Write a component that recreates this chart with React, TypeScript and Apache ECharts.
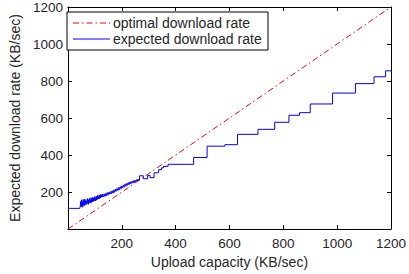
import React, { useEffect, useRef } from "react";
import * as echarts from "echarts";

const optimalX = [0, 1200];
const optimalY = [0, 1200];

const expectedX = [
  0, 44, 46, 47.5, 49, 50.5, 52, 53.5, 55, 56.5, 58, 59.5, 61, 62.5, 64, 65.5, 67,
  68.5, 70, 71.5, 73, 74.5, 76, 77.5, 79, 80.5, 82, 83.5, 85, 86.5, 88, 89.5, 91,
  92.5, 94, 95.5, 97, 98.5, 100, 101.5, 103, 104.5, 106, 107.5, 109, 110.5, 112,
  113.5, 115, 116.5, 118, 119.5, 121, 122.5, 124, 125.5, 127, 128.5, 130, 133, 136,
  139, 142, 145, 148, 151, 154, 157, 160, 163, 166, 169, 172, 175, 178, 181, 184,
  187, 190, 193, 196, 199, 202, 205, 208, 211, 214, 217, 220, 223, 226, 229, 232,
  235, 238, 241, 244, 247, 250, 253, 256, 259, 262, 266, 280, 296, 305, 320, 337,
  348, 355, 372, 467, 517, 583, 630, 706, 768, 821, 860, 900, 983, 1068, 1137, 1180,
  1200,
];
const expectedY = [
  112, 112, 125, 150, 120, 158, 128, 145, 118, 160, 132, 150, 126, 162, 138, 155,
  130, 148, 136, 165, 140, 158, 134, 160, 142, 168, 145, 160, 140, 170, 148, 162,
  146, 172, 150, 166, 152, 175, 155, 168, 152, 178, 158, 172, 160, 182, 162, 176,
  164, 185, 166, 180, 170, 188, 172, 184, 174, 190, 176, 188, 178, 192, 182, 196,
  186, 198, 190, 202, 192, 205, 196, 210, 200, 214, 206, 218, 210, 224, 214, 228,
  220, 232, 224, 236, 228, 242, 234, 246, 238, 250, 242, 254, 246, 256, 250, 260,
  252, 262, 256, 266, 260, 268, 264, 288, 272, 290, 278, 304, 321, 331, 339, 350,
  387, 448, 456, 512, 539, 577, 615, 629, 676, 735, 786, 823, 855, 855,
];

const xTicks = [200, 400, 600, 800, 1000, 1200];
const yTicks = [200, 400, 600, 800, 1000, 1200];

const legendNames = ["optimal download rate", "expected download rate"];
const xName = "Upload capacity (KB/sec)";
const yName = "Expected download rate (KB/sec)";

const FONT = "Liberation Sans, Arial, Helvetica, sans-serif";
const TXT = "#262626";

export default function App() {
  const ref = useRef<HTMLDivElement>(null);
  useEffect(() => {
    if (!ref.current) return;
    const chart = echarts.init(ref.current, null, { renderer: "svg" });
    const tickFmt = (v: number) => (xTicks.includes(v) ? String(v) : "");
    const ytickFmt = (v: number) => (yTicks.includes(v) ? String(v) : "");
    const axisBase = {
      type: "value" as const,
      min: 0,
      max: 1200,
      interval: 200,
      splitLine: { show: false },
      axisLine: { show: true, onZero: false, lineStyle: { color: "#000", width: 1 } },
      axisTick: { show: true, inside: true, length: 4, lineStyle: { color: "#000" } },
    };
    chart.setOption({
      animation: false,
      grid: { left: 59, right: 15, top: 6, bottom: 44, containLabel: false },
      xAxis: [
        {
          ...axisBase,
          position: "bottom",
          name: xName,
          nameLocation: "middle",
          nameGap: 17,
          nameTextStyle: { fontFamily: FONT, fontSize: 14, color: TXT },
          axisLabel: {
            formatter: tickFmt,
            fontFamily: FONT,
            fontSize: 13.5,
            color: TXT,
            margin: 7,
          },
        },
        {
          ...axisBase,
          position: "top",
          axisLabel: { show: false },
        },
      ],
      yAxis: [
        {
          ...axisBase,
          position: "left",
          name: yName,
          nameLocation: "middle",
          nameGap: 43,
          nameTextStyle: { fontFamily: FONT, fontSize: 14, color: TXT },
          axisLabel: {
            formatter: ytickFmt,
            fontFamily: FONT,
            fontSize: 13.5,
            color: TXT,
            margin: 5,
          },
        },
        {
          ...axisBase,
          position: "right",
          axisLabel: { show: false },
        },
      ],
      series: [
        {
          name: legendNames[0],
          type: "line",
          symbol: "none",
          data: optimalX.map((x, i) => [x, optimalY[i]]),
          lineStyle: { color: "#ff0000", width: 1, type: [6, 3, 1.5, 3] },
        },
        {
          name: legendNames[1],
          type: "line",
          symbol: "none",
          step: "end",
          data: expectedX.map((x, i) => [x, expectedY[i]]),
          lineStyle: { color: "#0000ff", width: 1 },
        },
      ],
      graphic: [
        {
          type: "rect",
          shape: { x: 67, y: 12, width: 201, height: 38 },
          style: { fill: "#fff", stroke: "#000", lineWidth: 1 },
          z: 100,
        },
        {
          type: "line",
          shape: { x1: 73, y1: 23, x2: 110, y2: 23 },
          style: { stroke: "#ff0000", lineWidth: 1, lineDash: [6, 3, 1.5, 3] },
          z: 101,
        },
        {
          type: "line",
          shape: { x1: 73, y1: 39, x2: 110, y2: 39 },
          style: { stroke: "#0000ff", lineWidth: 1 },
          z: 101,
        },
        {
          type: "text",
          x: 113,
          y: 23,
          style: {
            text: legendNames[0],
            fontFamily: FONT,
            fontSize: 14,
            fill: TXT,
            verticalAlign: "middle",
          },
          z: 101,
        },
        {
          type: "text",
          x: 113,
          y: 39,
          style: {
            text: legendNames[1],
            fontFamily: FONT,
            fontSize: 14,
            fill: TXT,
            verticalAlign: "middle",
          },
          z: 101,
        },
      ],
    });
    return () => chart.dispose();
  }, []);
  return (
    <div
      ref={ref}
      style={{ width: 409, height: 274, position: "absolute", left: 0, top: 0 }}
    />
  );
}
